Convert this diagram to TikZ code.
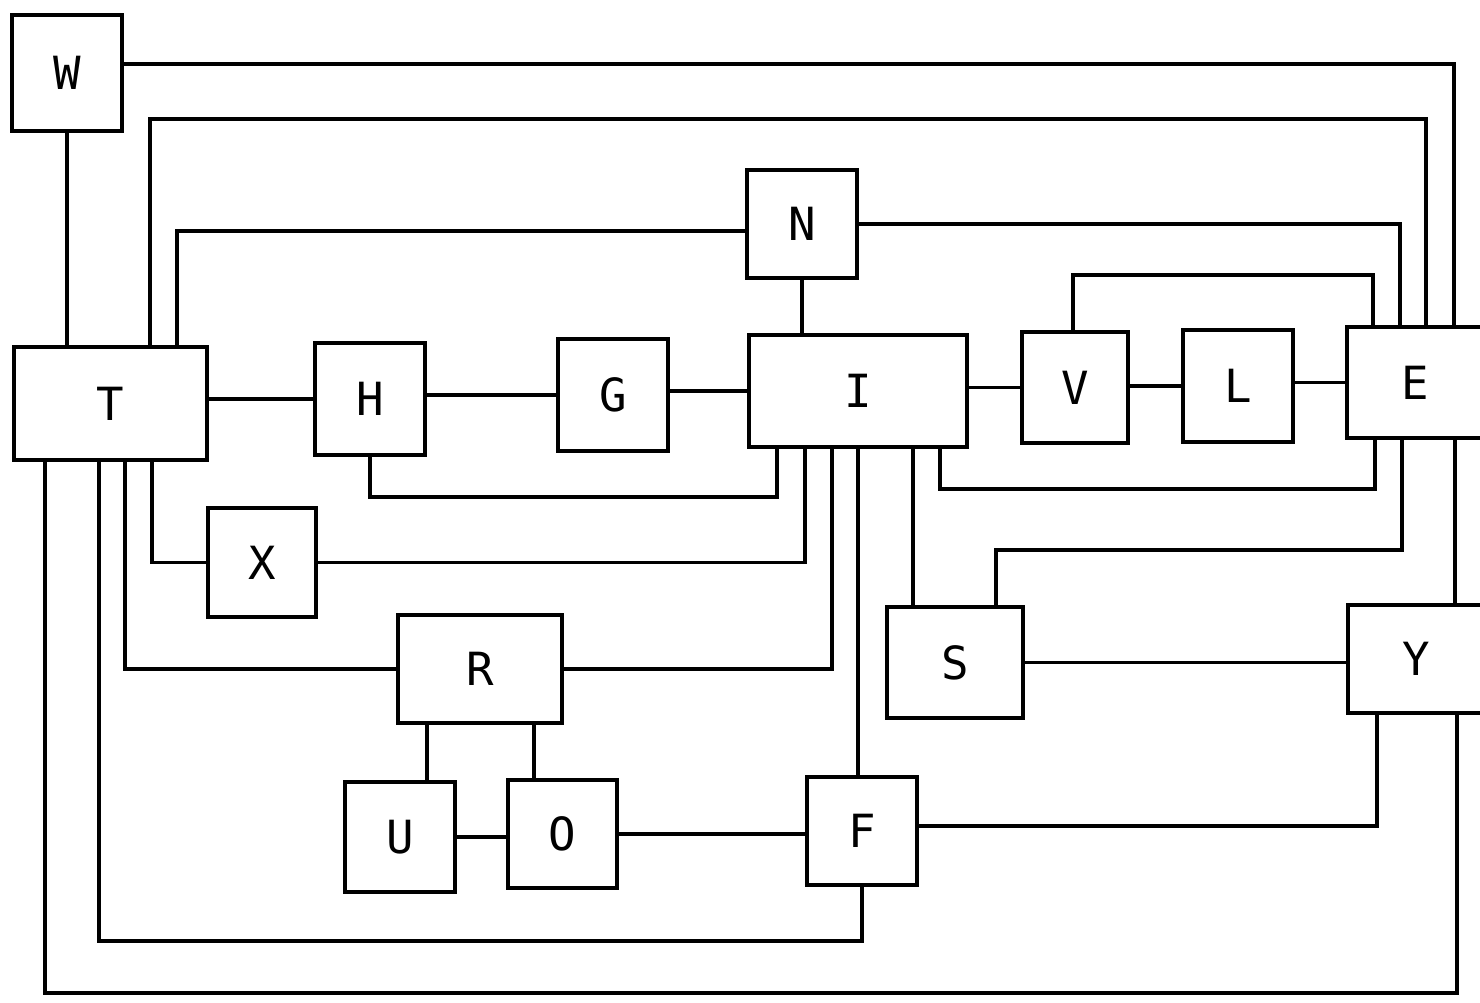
\documentclass[tikz,border=0pt]{standalone}
\usepackage{fontspec}
\setmonofont{DejaVu Sans Mono}
\begin{document}
\begin{tikzpicture}[x=0.01cm, y=-0.01cm,
  blk/.style={draw, rectangle, inner sep=0pt, line width=1.1pt,
    font=\ttfamily\fontsize{13}{13}\selectfont},
  wire/.style={line width=1pt, line join=miter}]
\useasboundingbox[fill=white] (0,0) rectangle (1480,1002);
% boxes
\node[blk, minimum width=1.10cm, minimum height=1.16cm] (W) at (67,73) {W};
\node[blk, minimum width=1.93cm, minimum height=1.13cm] (T) at (110.5,403.5) {T};
\node[blk, minimum width=1.10cm, minimum height=1.12cm] (H) at (370,399) {H};
\node[blk, minimum width=1.10cm, minimum height=1.12cm] (G) at (613,395) {G};
\node[blk, minimum width=1.10cm, minimum height=1.08cm] (N) at (802,224) {N};
\node[blk, minimum width=2.18cm, minimum height=1.12cm] (I) at (858,391) {I};
\node[blk, minimum width=1.06cm, minimum height=1.11cm] (V) at (1075,387.5) {V};
\node[blk, minimum width=1.10cm, minimum height=1.12cm] (L) at (1238,386) {L};
\node[blk, minimum width=1.37cm, minimum height=1.11cm] (E) at (1415.5,382.5) {E};
\node[blk, minimum width=1.08cm, minimum height=1.09cm] (X) at (262,562.5) {X};
\node[blk, minimum width=1.64cm, minimum height=1.08cm] (R) at (480,669) {R};
\node[blk, minimum width=1.10cm, minimum height=1.10cm] (U) at (400,837) {U};
\node[blk, minimum width=1.09cm, minimum height=1.08cm] (O) at (562.5,834) {O};
\node[blk, minimum width=1.10cm, minimum height=1.08cm] (F) at (862,831) {F};
\node[blk, minimum width=1.36cm, minimum height=1.11cm] (S) at (955,662.5) {S};
\node[blk, minimum width=1.36cm, minimum height=1.08cm] (Y) at (1416,659) {Y};
% connectors
\draw[wire] (W.south) -- (W.south |- T.north);
\draw[wire] (W.east |- 0,64) -| (E.north -| 1454,0);
\draw[wire] (T.north -| 150,0) -- (150,119) -| (E.north -| 1426,0);
\draw[wire] (T.north -| 177,0) |- (N.west |- 0,231);
\draw[wire] (N.east) -| (E.north -| 1400,0);
\draw[wire] (N.south) -- (N.south |- I.north);
\draw[wire] (V.north -| 1073,0) -- (1073,275) -| (E.north -| 1373,0);
\draw[wire] (T.east |- H.west) -- (H.west);
\draw[wire] (G.west -| H.east) -- (G.west);
\draw[wire] (I.west -| G.east) -- (I.west);
\draw[wire] (V.west -| I.east) -- (V.west);
\draw[wire] (L.west -| V.east) -- (L.west);
\draw[wire] (E.west -| L.east) -- (E.west);
\draw[wire] (H.south) -- (370,497) -| (I.south -| 777,0);
\draw[wire] (X.east) -| (I.south -| 805,0);
\draw[wire] (R.east) -| (I.south -| 832,0);
\draw[wire] (I.south) -- (I.south |- F.north);
\draw[wire] (I.south -| 913,0) -- (S.north -| 913,0);
\draw[wire] (E.south -| 1375,0) -- (1375,489) -| (I.south -| 940,0);
\draw[wire] (E.south -| 1402,0) -- (1402,550) -| (S.north -| 996,0);
\draw[wire] (E.south -| 1455,0) -- (Y.north -| 1455,0);
\draw[wire] (S.east) -- (S.east -| Y.west);
\draw[wire] (Y.south -| 1377,0) |- (F.east |- 0,826);
\draw[wire] (Y.south -| 1457,0) -- (1457,993) -| (T.south -| 45,0);
\draw[wire] (T.south -| 99,0) -- (99,941) -| (F.south);
\draw[wire] (T.south -| 125,0) |- (R.west);
\draw[wire] (T.south -| 152,0) |- (X.west);
\draw[wire] (R.south -| 427,0) -- (U.north -| 427,0);
\draw[wire] (R.south -| 534,0) -- (O.north -| 534,0);
\draw[wire] (U.east) -- (U.east -| O.west);
\draw[wire] (O.east) -- (O.east -| F.west);
\end{tikzpicture}
\end{document}
